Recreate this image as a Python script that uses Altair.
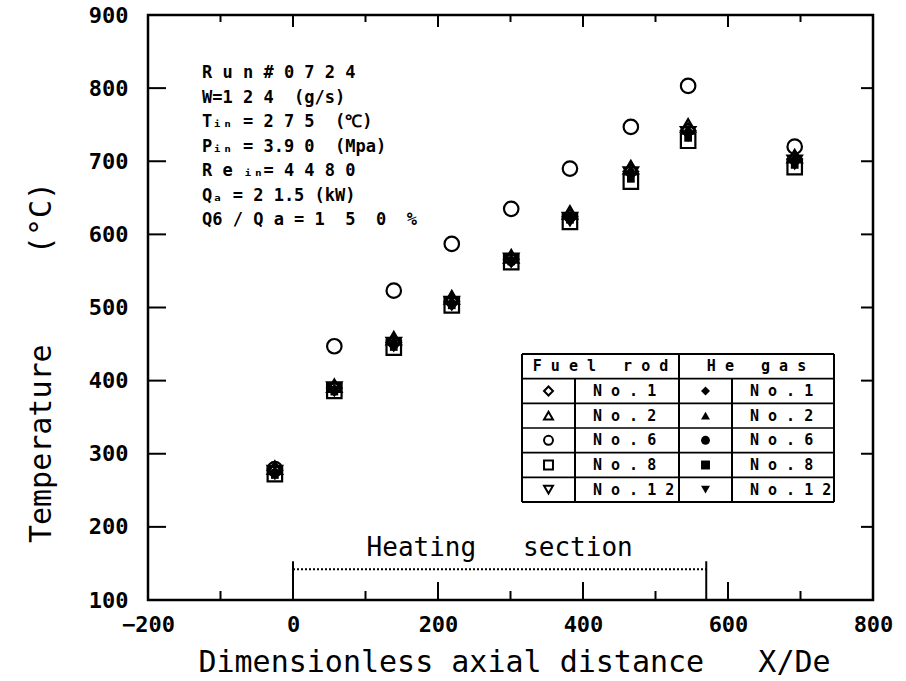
import altair as alt
import pandas as pd

# ---------------- data ----------------
x_pos = [-25, 57, 139, 219, 301, 382, 466, 545, 692]

fuel_no1 = [277, 390, 452, 508, 566, 624, 686, 742, 703]
fuel_no2 = [281, 393, 458, 514, 570, 630, 692, 749, 707]
fuel_no6 = [279, 447, 523, 587, 635, 690, 747, 803, 720]
fuel_no8 = [272, 386, 445, 503, 562, 617, 672, 728, 692]
fuel_no12 = [275, 389, 450, 506, 565, 621, 683, 738, 699]

he_no1 = [276, 389, 451, 507, 566, 625, 687, 743, 704]
he_no2 = [279, 392, 456, 512, 568, 628, 690, 746, 706]
he_no6 = [275, 388, 450, 506, 565, 623, 685, 740, 702]
he_no8 = [271, 385, 446, 503, 563, 620, 676, 732, 695]
he_no12 = [274, 388, 449, 505, 564, 622, 682, 737, 700]

rod_labels = ["No.1", "No.2", "No.6", "No.8", "No.12"]
rod_shapes = ["diamond", "triangle-up", "circle", "square", "triangle-down"]

x_ticks_major = [-200, 0, 200, 400, 600, 800]
x_ticks_minor = [-100, 100, 300, 500, 700]
y_ticks = [100, 200, 300, 400, 500, 600, 700, 800, 900]
y_inner_ticks = [200, 300, 400, 500, 600, 700, 800]

heating_start = 0
heating_end = 570
heating_level = 142
heating_top = 153

NB = "\u00a0"
info_lines = [
    "R u n # 0 7 2 4",
    "W=1 2 4" + NB + NB + "(g/s)",
    "Tᵢₙ = 2 7 5" + NB + NB + "(℃)",
    "Pᵢₙ = 3.9 0" + NB + NB + "(Mpa)",
    "R e ᵢₙ= 4 4 8 0",
    "Qₐ = 2 1.5 (kW)",
    "Q6 / Q a = 1" + NB + NB + "5" + NB + NB + "0" + NB + NB + "%",
]
x_title = "Dimensionless axial distance" + NB * 3 + "X/De"
y_title = "Temperature" + NB * 5 + "(°C)"
heat_title = "Heating" + NB * 3 + "section"
hdr_fuel = "F u e l" + NB * 3 + "r o d"
hdr_he = "H e" + NB * 3 + "g a s"

# ---------------- build table ----------------
rows = []
for grp, series in [("fuel", [fuel_no1, fuel_no2, fuel_no6, fuel_no8, fuel_no12]),
                    ("he", [he_no1, he_no2, he_no6, he_no8, he_no12])]:
    for lab, vals in zip(rod_labels, series):
        for xv, tv in zip(x_pos, vals):
            rows.append({"group": grp, "rod": lab, "x": xv, "temp": tv})
df = pd.DataFrame(rows)

W, H = 725, 585
FONT = "DejaVu Sans Mono"

x_scale = alt.Scale(domain=[-200, 800], nice=False, zero=False)
y_scale = alt.Scale(domain=[100, 900], nice=False, zero=False)
shape_scale = alt.Scale(domain=rod_labels, range=rod_shapes)

x_axis = alt.Axis(values=x_ticks_major, format="d", ticks=False, domain=False, grid=False,
                  labelPadding=14, labelFlush=False,
                  titleX=366, titleY=62, titleBaseline="middle", titleAlign="center")
y_axis = alt.Axis(values=y_ticks, format="d", ticks=False, domain=False, grid=False,
                  labelPadding=20, labelFlush=False,
                  titleX=-107, titleY=347, titleAngle=270, titleBaseline="middle", titleAlign="center")

one = alt.Data(values=[{}])

fuel_layer = alt.Chart(df[df.group == "fuel"]).mark_point(
    filled=False, size=210, strokeWidth=2.2, color="black", opacity=1
).encode(
    x=alt.X("x:Q", scale=x_scale, axis=x_axis, title=x_title),
    y=alt.Y("temp:Q", scale=y_scale, axis=y_axis, title=y_title),
    shape=alt.Shape("rod:N", scale=shape_scale, legend=None),
)

he_layer = alt.Chart(df[df.group == "he"]).mark_point(
    filled=True, size=60, color="black", opacity=1
).encode(
    x=alt.X("x:Q", scale=x_scale, title=x_title),
    y=alt.Y("temp:Q", scale=y_scale, title=y_title),
    shape=alt.Shape("rod:N", scale=shape_scale, legend=None),
)


# inward tick marks
def yticks(vals, x0, x1):
    return alt.Chart(pd.DataFrame({"temp": vals})).mark_rule(color="black", strokeWidth=2).encode(
        y=alt.Y("temp:Q", scale=y_scale, title=y_title), x=alt.value(x0), x2=alt.value(x1))


def xticks(vals, y0, y1):
    return alt.Chart(pd.DataFrame({"x": vals})).mark_rule(color="black", strokeWidth=2).encode(
        x=alt.X("x:Q", scale=x_scale, title=x_title), y=alt.value(y0), y2=alt.value(y1))


tick_layers = [
    yticks(y_inner_ticks, 0, 18),
    yticks(y_inner_ticks, W, W - 12),
    xticks(x_ticks_major[1:-1], H, H - 18),
    xticks(x_ticks_minor, H, H - 9),
    xticks(x_ticks_major[1:-1], 0, 12),
    xticks(x_ticks_minor, 0, 7),
]

# heating section
heat_df = pd.DataFrame({"x": [heating_start], "x_end": [heating_end], "temp": [heating_level],
                        "bot": [100], "top": [heating_top]})
heat_line = alt.Chart(heat_df).mark_rule(color="black", strokeWidth=2, strokeDash=[2, 2]).encode(
    x=alt.X("x:Q", scale=x_scale, title=x_title), x2="x_end:Q",
    y=alt.Y("temp:Q", scale=y_scale, title=y_title))
heat_l = alt.Chart(heat_df).mark_rule(color="black", strokeWidth=2).encode(
    x=alt.X("x:Q", scale=x_scale, title=x_title),
    y=alt.Y("bot:Q", scale=y_scale, title=y_title), y2="top:Q")
heat_r = alt.Chart(heat_df).mark_rule(color="black", strokeWidth=2).encode(
    x=alt.X("x_end:Q", scale=x_scale, title=x_title),
    y=alt.Y("bot:Q", scale=y_scale, title=y_title), y2="top:Q")
heat_text = alt.Chart(heat_df).transform_calculate(
    mid="(datum.x + datum.x_end) / 2", ty="datum.top + 18"
).mark_text(
    text=heat_title, font=FONT, fontSize=26, color="black", baseline="middle", align="center"
).encode(x=alt.X("mid:Q", scale=x_scale, title=x_title), y=alt.Y("ty:Q", scale=y_scale, title=y_title))


def ptext(txt, x, y, size, align="left", weight="bold"):
    return alt.Chart(one).mark_text(text=txt, align=align, baseline="middle", font=FONT,
                                    fontSize=size, fontWeight=weight, color="black").encode(
        x=alt.value(x), y=alt.value(y))


def prule(x1, y1, x2, y2, w=2):
    return alt.Chart(one).mark_rule(color="black", strokeWidth=w).encode(
        x=alt.value(x1), x2=alt.value(x2), y=alt.value(y1), y2=alt.value(y2))


# info text block
info_layers = [ptext(t, 54, 58 + i * 24.5, 17) for i, t in enumerate(info_lines)]

# legend table
TL, TR, TT, TB = 374, 686, 339, 487
row_h = (TB - TT) / 6
c1, cm, c3 = 427, 531, 584
tbl = [
    prule(TL, TT, TR, TT), prule(TL, TB, TR, TB), prule(TL, TT, TL, TB), prule(TR, TT, TR, TB),
    prule(cm, TT, cm, TB), prule(c1, TT + row_h, c1, TB), prule(c3, TT + row_h, c3, TB),
]
for i in range(1, 6):
    tbl.append(prule(TL, TT + i * row_h, TR, TT + i * row_h, 1.6))
tbl.append(ptext(hdr_fuel, (TL + cm) / 2, TT + row_h / 2, 15, "center"))
tbl.append(ptext(hdr_he, (cm + TR) / 2, TT + row_h / 2, 15, "center"))
for i, (lab, shp) in enumerate(zip(rod_labels, rod_shapes)):
    yc = TT + (i + 1.5) * row_h
    tbl.append(alt.Chart(one).mark_point(shape=shp, filled=False, size=80, strokeWidth=2, color="black", opacity=1)
               .encode(x=alt.value((TL + c1) / 2), y=alt.value(yc)))
    tbl.append(alt.Chart(one).mark_point(shape=shp, filled=True, size=80, color="black", opacity=1)
               .encode(x=alt.value((cm + c3) / 2), y=alt.value(yc)))
    spaced = " ".join(list(lab))
    tbl.append(ptext(spaced, c1 + 18, yc, 15))
    tbl.append(ptext(spaced, c3 + 18, yc, 15))

chart = alt.layer(
    fuel_layer, he_layer, *tick_layers, heat_line, heat_l, heat_r, heat_text, *info_layers, *tbl
).properties(
    width=W, height=H,
    autosize=alt.AutoSizeParams(type="none"),
    padding={"left": 148, "top": 15, "right": 33, "bottom": 81},
    background="white",
).configure_view(
    stroke="black", strokeWidth=2.5
).configure_axis(
    labelFont=FONT, labelFontSize=22, labelFontWeight="bold", labelColor="black",
    titleFont=FONT, titleFontSize=30, titleFontWeight="normal", titleColor="black",
)

chart.save("out.html", embed_options={"renderer": "svg", "actions": False})
